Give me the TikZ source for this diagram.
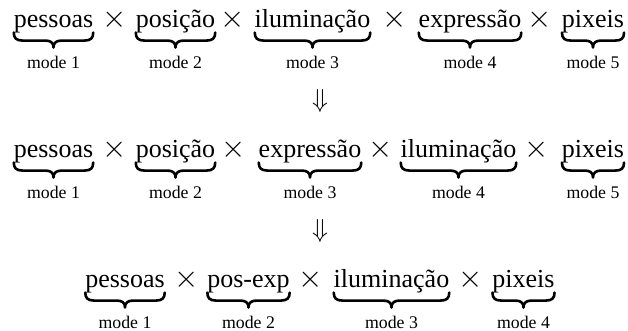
\documentclass[tikz,border=0pt]{standalone}
\usepackage{fontspec}
\setmainfont{Liberation Serif}
\usetikzlibrary{calc}
\begin{document}
\begin{tikzpicture}[x=0.4615pt,y=-0.4615pt,
  every node/.style={inner sep=0pt, outer sep=0pt},
  word/.style={anchor=base, font=\fontsize{12}{14.4}\selectfont},
  lab/.style={anchor=base, font=\fontsize{8.2}{10}\selectfont},
  op/.style={anchor=base, font=\fontsize{14}{16}\selectfont},
  arr/.style={anchor=center, font=\fontsize{12}{14.4}\selectfont},
  ubrace/.style={line width=1.2pt, line cap=round, line join=round}]
\useasboundingbox (0,0) rectangle (628,330);
\newcommand{\underbr}[1]{%
  \draw[ubrace] let \p1=(#1.south west), \p2=(#1.south east),
      \p3=($(\p1)!0.5!(\p2)$) in
    (\x1,\y1) .. controls (\x1,\y1-2.6pt) and (\x1+1.2pt,\y1-3.7pt) .. (\x1+4pt,\y1-3.7pt)
    -- (\x3-4pt,\y1-3.7pt) .. controls (\x3-1.3pt,\y1-3.7pt) and (\x3,\y1-4.6pt) .. (\x3,\y1-6.9pt)
    .. controls (\x3,\y1-4.6pt) and (\x3+1.3pt,\y1-3.7pt) .. (\x3+4pt,\y1-3.7pt)
    -- (\x2-4pt,\y1-3.7pt) .. controls (\x2-1.2pt,\y1-3.7pt) and (\x2,\y1-2.6pt) .. (\x2,\y1);}
% ---------- row 1 ----------
\node[word] (a1) at (53.5,27) {pessoas};
\node[op]   (ax1) at (114.7,27) {$\times$};
\node[word] (a2) at (175.5,27) {posição};
\node[op]   (ax2) at (233,27) {$\times$};
\node[word] (a3) at (312.5,27) {iluminação};
\node[op]   (ax3) at (395,27) {$\times$};
\node[word] (a4) at (470,27) {expressão};
\node[op]   (ax4) at (539.5,27) {$\times$};
\node[word] (a5) at (593,27) {pixeis};
\foreach \w/\m in {a1/1,a2/2,a3/3,a4/4,a5/5}{
  \underbr{\w}
  \node[lab] (l\w) at (\w.center |- 0,68) {mode \m};
}
% ---------- arrow 1 ----------
\node[arr] (d1) at (320,101) {$\Downarrow$};
% ---------- row 2 ----------
\node[word] (b1) at (53.5,157) {pessoas};
\node[op]   (bx1) at (114.7,157) {$\times$};
\node[word] (b2) at (175.5,157) {posição};
\node[op]   (bx2) at (234,157) {$\times$};
\node[word] (b3) at (310,157) {expressão};
\node[op]   (bx3) at (381,157) {$\times$};
\node[word] (b4) at (458.5,157) {iluminação};
\node[op]   (bx4) at (537,157) {$\times$};
\node[word] (b5) at (593,157) {pixeis};
\foreach \w/\m in {b1/1,b2/2,b3/3,b4/4,b5/5}{
  \underbr{\w}
  \node[lab] (l\w) at (\w.center |- 0,198) {mode \m};
}
% ---------- arrow 2 ----------
\node[arr] (d2) at (320,231) {$\Downarrow$};
% ---------- row 3 ----------
\node[word] (c1) at (125,287) {pessoas};
\node[op]   (cx1) at (187,287) {$\times$};
\node[word] (c2) at (248.5,287) {pos-exp};
\node[op]   (cx2) at (311,287) {$\times$};
\node[word] (c3) at (391.5,287) {iluminação};
\node[op]   (cx3) at (471,287) {$\times$};
\node[word] (c4) at (523.5,287) {pixeis};
\foreach \w/\m in {c1/1,c2/2,c3/3,c4/4}{
  \underbr{\w}
  \node[lab] (l\w) at (\w.center |- 0,328) {mode \m};
}
\end{tikzpicture}
\end{document}
